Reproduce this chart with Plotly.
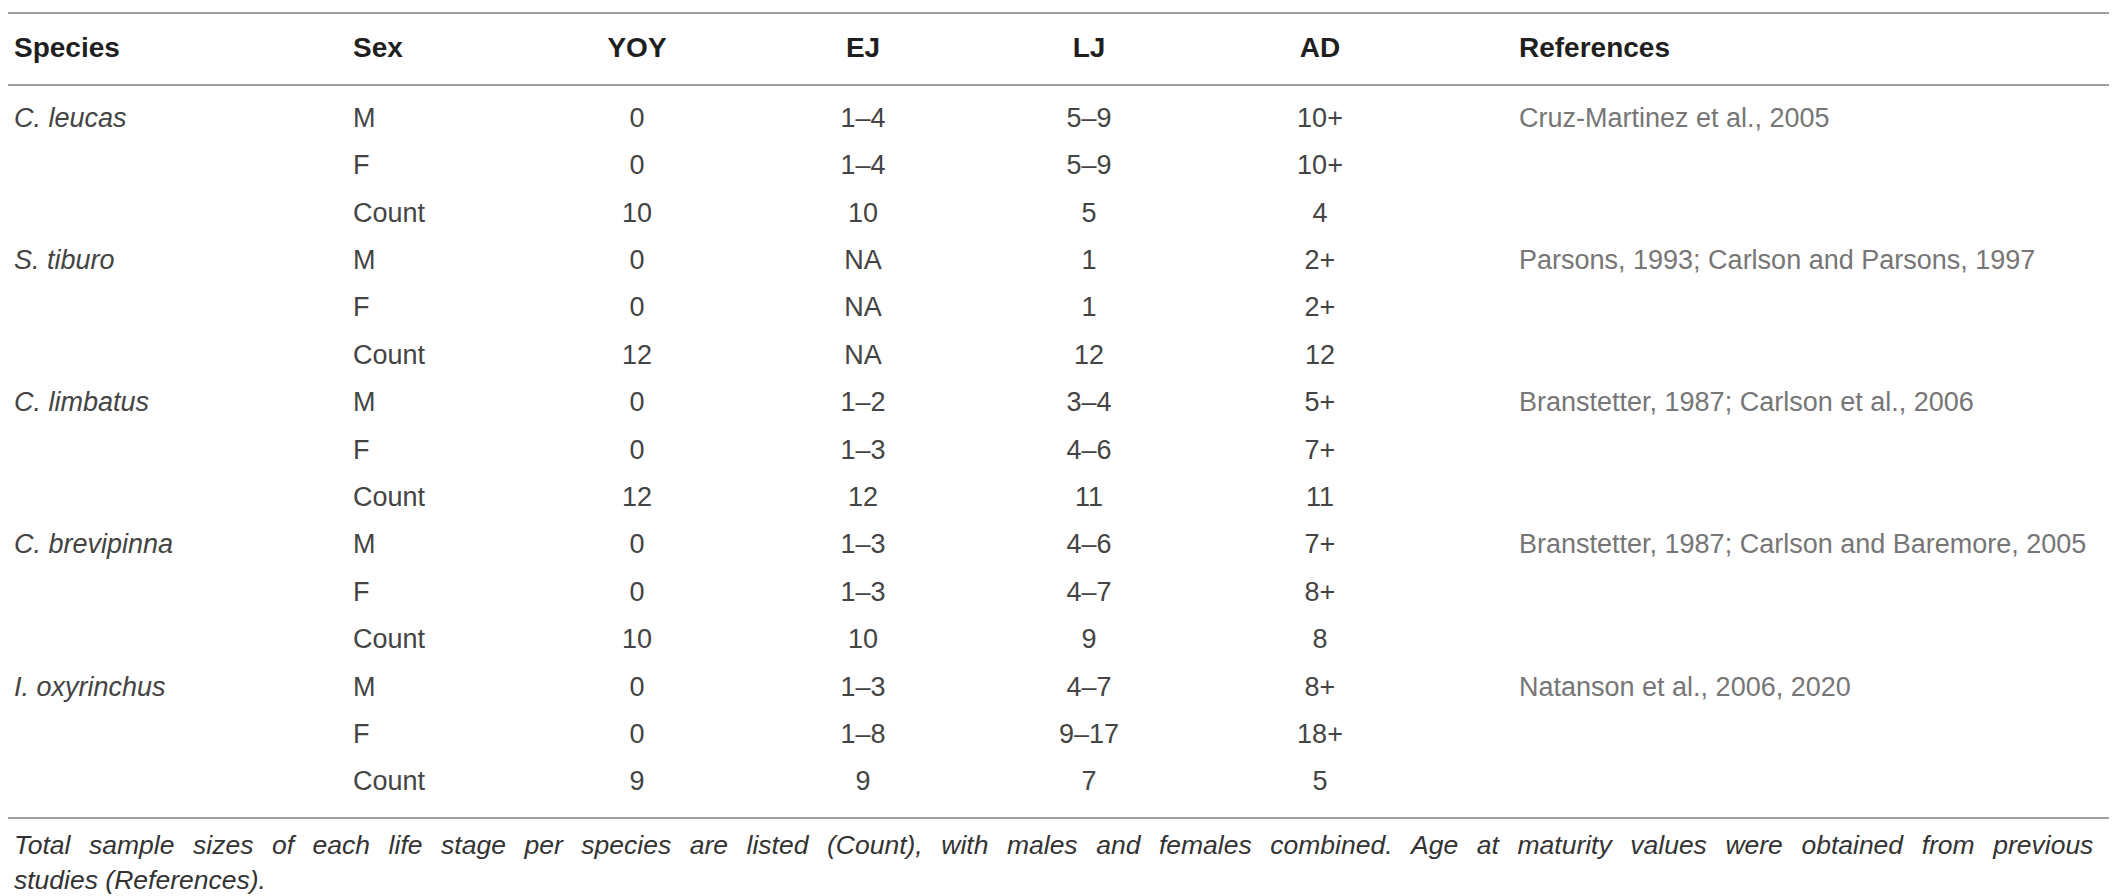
import plotly.graph_objects as go

# table content
headers = ["Species", "Sex", "YOY", "EJ", "LJ", "AD", "References"]
species = ["C. leucas", "S. tiburo", "C. limbatus", "C. brevipinna", "I. oxyrinchus"]
sex = ["M", "F", "Count"] * 5
yoy = ["0", "0", "10", "0", "0", "12", "0", "0", "12", "0", "0", "10", "0", "0", "9"]
ej = ["1–4", "1–4", "10", "NA", "NA", "NA", "1–2", "1–3", "12", "1–3", "1–3", "10", "1–3", "1–8", "9"]
lj = ["5–9", "5–9", "5", "1", "1", "12", "3–4", "4–6", "11", "4–6", "4–7", "9", "4–7", "9–17", "7"]
ad = ["10+", "10+", "4", "2+", "2+", "12", "5+", "7+", "11", "7+", "8+", "8", "8+", "18+", "5"]
references = ["Cruz-Martinez et al., 2005",
              "Parsons, 1993; Carlson and Parsons, 1997",
              "Branstetter, 1987; Carlson et al., 2006",
              "Branstetter, 1987; Carlson and Baremore, 2005",
              "Natanson et al., 2006, 2020"]
footnote = ["Total sample sizes of each life stage per species are listed (Count), with males and "
            "females combined. Age at maturity values were obtained from previous",
            "studies (References)."]

W, H = 2117, 896
col_x = [6, 345, 629, 855, 1081, 1312, 1511]
col_align = ["middle right", "middle right", "middle center", "middle center",
             "middle center", "middle center", "middle right"]
header_y = 42
row0, row_step = 112, 47.4
row_y = [row0 + i * row_step for i in range(len(sex))]
group_y = row_y[::3]

FONT = "Liberation Sans"
body = dict(family=FONT, size=27, color="#444444")

fig = go.Figure()

# header row
for x, h, pos in zip(col_x, headers, col_align):
    fig.add_trace(go.Scatter(x=[x], y=[header_y], mode="text", text=["<b>" + h + "</b>"],
                             textposition=pos,
                             textfont=dict(family=FONT, size=28, color="#1f1f1f")))

# species (italic) and references
fig.add_trace(go.Scatter(x=[col_x[0]] * len(species), y=group_y, mode="text",
                         text=["<i>" + s + "</i>" for s in species],
                         textposition="middle right", textfont=body))
fig.add_trace(go.Scatter(x=[col_x[6]] * len(references), y=group_y, mode="text",
                         text=references, textposition="middle right",
                         textfont=dict(family=FONT, size=27, color="#767676")))

# body columns
for x, vals, pos in zip(col_x[1:6], [sex, yoy, ej, lj, ad], col_align[1:6]):
    fig.add_trace(go.Scatter(x=[x] * len(vals), y=row_y, mode="text", text=vals,
                             textposition=pos, textfont=body))

# footnote, first line stretched to the full width like the justified original
wide_gap = "\u2002\u2009"
foot_text = [footnote[0].replace(" ", wide_gap), footnote[1]]
fig.add_trace(go.Scatter(x=[col_x[0]] * 2, y=[839, 874], mode="text",
                         text=["<i>" + t + "</i>" for t in foot_text],
                         textposition="middle right",
                         textfont=dict(family=FONT, size=26.5, color="#333333")))

# horizontal rules
for yy in [5, 77, 810]:
    fig.add_shape(type="line", x0=0, x1=W, y0=yy, y1=yy, xref="x", yref="y",
                  line=dict(color="#a0a0a0", width=2))

fig.update_layout(width=W, height=H, margin=dict(l=0, r=0, t=0, b=0),
                  paper_bgcolor="white", plot_bgcolor="white", showlegend=False)
fig.update_xaxes(range=[0, W], visible=False, fixedrange=True)
fig.update_yaxes(range=[H, 0], visible=False, fixedrange=True)

fig.write_html("out.html")
